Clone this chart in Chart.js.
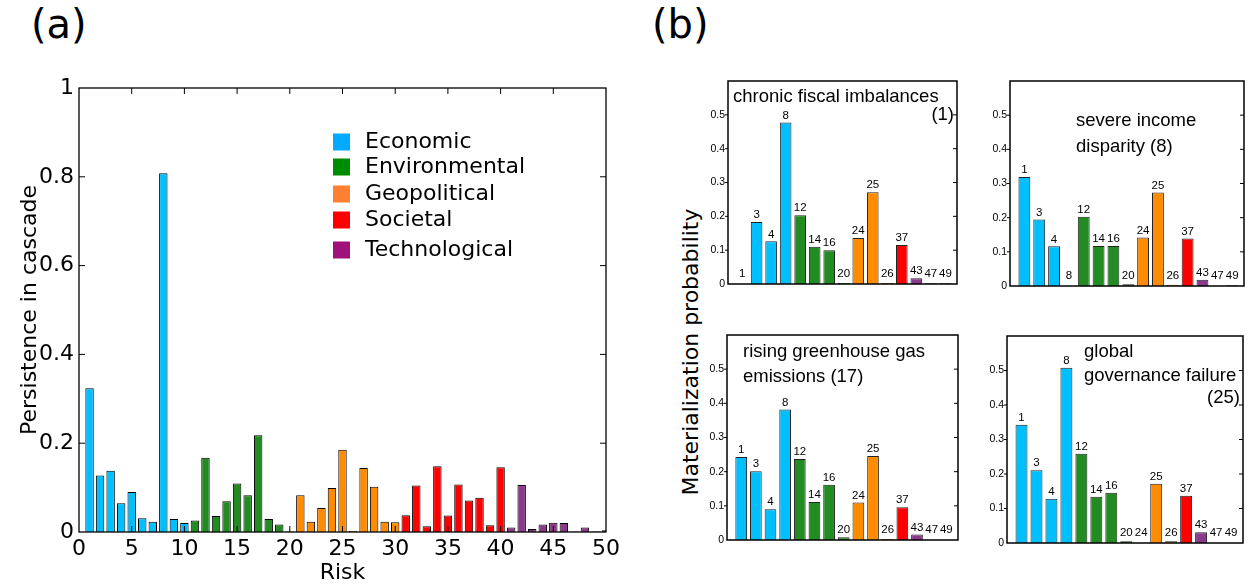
<!DOCTYPE html>
<html>
<head>
<meta charset="utf-8">
<script src="https://cdn.jsdelivr.net/npm/chart.js@4.4.0/dist/chart.umd.min.js"></script>
<style>
  body { margin: 0; background: #fff; width: 1255px; height: 586px; overflow: hidden; position: relative; font-family: 'DejaVu Sans', sans-serif; }
  .box { position: absolute; }
  .panel { position: absolute; font-size: 40px; line-height: 1; }
  #btitle { position: absolute; left: 690px; top: 352px; transform: translate(-50%, -50%) rotate(-90deg); font-size: 22px; white-space: nowrap; }
</style>
</head>
<body>
<div class="panel" style="left:31px; top:4px">(a)</div>
<div class="panel" style="left:652px; top:4px">(b)</div>
<div id="btitle">Materialization probability</div>

<div class="box" style="left:0; top:0"><canvas id="persistence" width="640" height="586"></canvas></div>
<div class="box" style="left:700px; top:70px"><canvas id="fiscal" width="270" height="230"></canvas></div>
<div class="box" style="left:970px; top:70px"><canvas id="income" width="285" height="230"></canvas></div>
<div class="box" style="left:700px; top:320px"><canvas id="greenhouse" width="270" height="240"></canvas></div>
<div class="box" style="left:970px; top:320px"><canvas id="governance" width="285" height="240"></canvas></div>

<script>
// categories of risks, 10 risks each (1-10, 11-20, ...)
const categories = ['Economic', 'Environmental', 'Geopolitical', 'Societal', 'Technological'];

// (a) persistence in cascade, risk 1..50
const economic      = [0.324, 0.127, 0.138, 0.065, 0.090, 0.031, 0.023, 0.808, 0.029, 0.020];
const environmental = [0.026, 0.167, 0.036, 0.069, 0.109, 0.083, 0.218, 0.029, 0.017, 0.001];
const geopolitical  = [0.083, 0.023, 0.054, 0.099, 0.185, 0.002, 0.144, 0.102, 0.023, 0.022];
const societal      = [0.038, 0.105, 0.013, 0.148, 0.037, 0.107, 0.071, 0.077, 0.015, 0.146];
const technological = [0.010, 0.106, 0.007, 0.017, 0.021, 0.020, 0.001, 0.010, 0.001, 0.004];

// (b) materialization probability of selected risks
const shownRisks = [1, 3, 4, 8, 12, 14, 16, 20, 24, 25, 26, 37, 43, 47, 49];
const fiscalValues     = [0, 0.183, 0.126, 0.477, 0.203, 0.110, 0.100, 0.003, 0.136, 0.271, 0.003, 0.115, 0.017, 0.002, 0.002];
const incomeValues     = [0.319, 0.195, 0.116, 0, 0.203, 0.117, 0.117, 0.005, 0.142, 0.274, 0.004, 0.139, 0.018, 0.001, 0.002];
const greenhouseValues = [0.243, 0.201, 0.090, 0.382, 0.237, 0.111, 0.162, 0.008, 0.110, 0.246, 0.003, 0.096, 0.016, 0.001, 0.001];
const governanceValues = [0.343, 0.211, 0.128, 0.508, 0.259, 0.134, 0.146, 0.005, 0.001, 0.172, 0.005, 0.137, 0.031, 0.001, 0.001];

const barColors = ['#00BFFF', '#228B22', '#FF8C00', '#FF0000', '#8B3A8B'];
const legendColors = ['#00AAFF', '#008C00', '#FF8030', '#FF0000', '#A0127A'];

Chart.defaults.font.family = "'DejaVu Sans', sans-serif";
Chart.defaults.color = '#000';

function riskColor(r) {
  return barColors[Math.floor((r - 1) / 10)];
}

// box around the plot + inward tick marks
const framePlugin = {
  id: 'frame',
  afterDatasetsDraw(chart, args, opts) {
    const { ctx, chartArea: a, scales } = chart;
    ctx.save();
    ctx.strokeStyle = '#000';
    ctx.lineWidth = 1;
    const len = opts.tickLen;
    if (opts.xTicks) {
      scales.x.ticks.forEach(t => {
        const px = scales.x.getPixelForValue(t.value);
        if (px <= a.left + 1 || px >= a.right - 1) return;
        ctx.beginPath();
        ctx.moveTo(px, a.bottom); ctx.lineTo(px, a.bottom - len);
        ctx.moveTo(px, a.top); ctx.lineTo(px, a.top + len);
        ctx.stroke();
      });
    }
    scales.y.ticks.forEach(t => {
      const py = scales.y.getPixelForValue(t.value);
      if (py <= a.top + 1 || py >= a.bottom - 1) return;
      ctx.beginPath();
      ctx.moveTo(a.left - opts.outLen, py); ctx.lineTo(a.left + (opts.leftIn ? len : 0), py);
      ctx.moveTo(a.right, py); ctx.lineTo(a.right - len, py);
      ctx.stroke();
    });
    ctx.lineWidth = opts.lineWidth;
    ctx.strokeRect(a.left, a.top, a.right - a.left, a.bottom - a.top);
    ctx.restore();
  }
};

// legend drawn inside panel (a)
const insideLegend = {
  id: 'insideLegend',
  afterDraw(chart) {
    const { ctx, chartArea: a } = chart;
    const rows = [54, 79, 106, 132, 162];
    ctx.save();
    ctx.font = "22px 'DejaVu Sans'";
    ctx.textBaseline = 'middle';
    categories.forEach((name, k) => {
      const y = a.top + rows[k];
      ctx.fillStyle = legendColors[k];
      ctx.fillRect(a.left + 254, y - 8.5, 17, 17);
      ctx.fillStyle = '#000';
      ctx.fillText(name, a.left + 286, y);
    });
    ctx.restore();
  }
};

// number above every bar in the small charts
const barLabels = {
  id: 'barLabels',
  afterDatasetsDraw(chart) {
    const { ctx, chartArea: a } = chart;
    const meta = chart.getDatasetMeta(0);
    ctx.save();
    ctx.font = "11.5px 'Liberation Sans', Arial, sans-serif";
    ctx.fillStyle = '#000';
    ctx.textAlign = 'center';
    ctx.textBaseline = 'middle';
    meta.data.forEach((bar, i) => {
      const y = Math.min(bar.y - 7, a.bottom - 10);
      ctx.fillText(String(shownRisks[i]), bar.x, y);
    });
    ctx.restore();
  }
};

// text title inside the small charts
const innerTitle = {
  id: 'innerTitle',
  afterDraw(chart, args, opts) {
    const { ctx, chartArea: a } = chart;
    ctx.save();
    ctx.font = "18.5px 'Liberation Sans', Arial, sans-serif";
    ctx.fillStyle = '#000';
    ctx.textBaseline = 'middle';
    opts.lines.forEach(l => {
      ctx.textAlign = l.align || 'left';
      const x = l.align === 'right' ? a.right - l.dx : a.left + l.dx;
      ctx.fillText(l.text, x, a.top + l.dy);
    });
    ctx.restore();
  }
};

/* (a) persistence in cascade */
const seriesA = [economic, environmental, geopolitical, societal, technological];
new Chart(document.getElementById('persistence'), {
  type: 'bar',
  data: {
    datasets: seriesA.map((vals, k) => ({
      label: categories[k],
      data: vals.map((v, i) => ({ x: k * 10 + i + 1, y: v })),
      backgroundColor: barColors[k],
      borderColor: '#000',
      borderWidth: 1,
      grouped: false,
      categoryPercentage: 0.8,
      barPercentage: 1,
      clip: 0
    }))
  },
  options: {
    responsive: false,
    animation: false,
    layout: { padding: { top: 88, right: 34, left: 0, bottom: 0 } },
    plugins: {
      legend: { display: false },
      tooltip: { enabled: false },
      frame: { tickLen: 6, outLen: 0, leftIn: true, xTicks: true, lineWidth: 1.3 }
    },
    scales: {
      x: {
        type: 'linear', min: 0, max: 50, offset: false,
        ticks: { stepSize: 5, font: { size: 22 }, padding: 4, maxRotation: 0 },
        grid: { display: false, drawTicks: false, offset: false },
        border: { display: false },
        title: { display: true, text: 'Risk', font: { size: 22 }, padding: { top: 0, bottom: 0 } },
        afterFit(s) { s.height = 54; }
      },
      y: {
        min: 0, max: 1,
        ticks: { stepSize: 0.2, font: { size: 22 }, padding: 5, callback: v => String(+v.toFixed(1)) },
        grid: { display: false, drawTicks: false },
        border: { display: false },
        title: { display: true, text: 'Persistence in cascade', font: { size: 22 }, padding: { top: 17, bottom: 0 } },
        afterFit(s) { s.width = 79; }
      }
    }
  },
  plugins: [framePlugin, insideLegend]
});

/* (b) four small charts */
function smallChart(id, values, lines, yWidth, pad) {
  new Chart(document.getElementById(id), {
    type: 'bar',
    data: {
      datasets: [{
        data: values.map((v, i) => ({ x: i, y: v })),
        backgroundColor: shownRisks.map(riskColor),
        borderColor: '#222',
        borderWidth: 1,
        categoryPercentage: 0.8,
        barPercentage: 1,
        clip: 0
      }]
    },
    options: {
      responsive: false,
      animation: false,
      layout: { padding: pad },
      plugins: {
        legend: { display: false },
        tooltip: { enabled: false },
        frame: { tickLen: 4, outLen: 3, leftIn: false, xTicks: false, lineWidth: 1.5 },
        innerTitle: { lines: lines }
      },
      scales: {
        x: { type: 'linear', min: -0.97, max: 14.8, offset: false, display: false, grid: { offset: false } },
        y: {
          min: 0, max: 0.6,
          ticks: {
            stepSize: 0.1, padding: 3,
            font: { size: 10.5, family: "'Liberation Sans', Arial, sans-serif" },
            callback: v => (v > 0.55 ? '' : v === 0 ? '0' : v.toFixed(1))
          },
          grid: { display: false, drawTicks: false },
          border: { display: false },
          afterFit(s) { s.width = yWidth; }
        }
      }
    },
    plugins: [framePlugin, barLabels, innerTitle]
  });
}

smallChart('fiscal', fiscalValues, [
  { text: 'chronic fiscal imbalances', dx: 5, dy: 16 },
  { text: '(1)', dx: 3, dy: 34, align: 'right' }
], 28, { top: 11, right: 13, bottom: 16, left: 0 });

smallChart('income', incomeValues, [
  { text: 'severe income', dx: 66, dy: 40 },
  { text: 'disparity (8)', dx: 66, dy: 66 }
], 40, { top: 11, right: 11, bottom: 14, left: 0 });

smallChart('greenhouse', greenhouseValues, [
  { text: 'rising greenhouse gas', dx: 16, dy: 17 },
  { text: 'emissions (17)', dx: 16, dy: 42 }
], 27, { top: 15, right: 12, bottom: 20, left: 0 });

smallChart('governance', governanceValues, [
  { text: 'global', dx: 77, dy: 16 },
  { text: 'governance failure', dx: 77, dy: 40 },
  { text: '(25)', dx: 3, dy: 62, align: 'right' }
], 37, { top: 16, right: 12, bottom: 17, left: 0 });
</script>
</body>
</html>
